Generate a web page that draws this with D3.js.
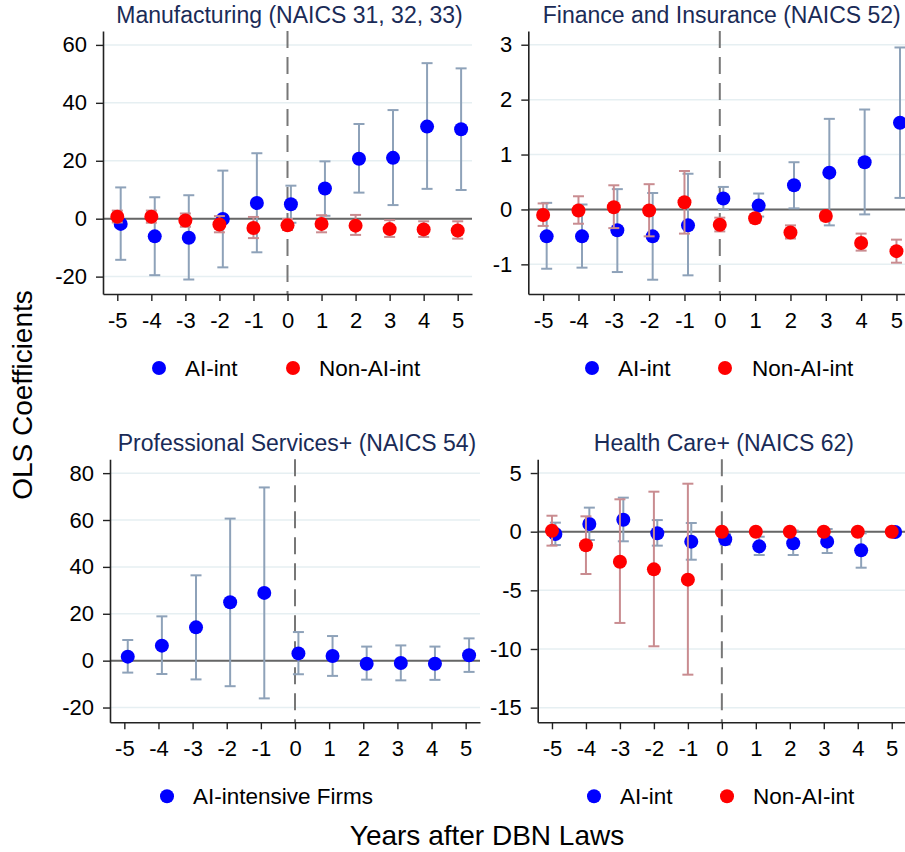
<!DOCTYPE html>
<html lang="en">
<head>
  <meta charset="utf-8">
  <title>OLS Coefficients</title>
  <style>
    body {
      margin:0;
      background-color:#fff;
      font-family:"Liberation Sans", Arial, sans-serif;
    }
    .tick text {
      font-size:22px;
      fill:#000;
    }
    .panel-title {
      font-size:23px;
      fill:#1a2b57;
    }
    .legend text {
      font-size:22.5px;
      fill:#000;
    }
    .big-title {
      font-size:28px;
      fill:#000;
    }
  </style>
</head>
<body>
  <div id="chart"></div>
  <script src="https://cdn.jsdelivr.net/npm/d3@7"></script>
  <script>
    // years relative to the law
    var years = [-5, -4, -3, -2, -1, 0, 1, 2, 3, 4, 5];

    // Manufacturing (NAICS 31, 32, 33)
    var mfgAI     = [-1.8, -6.1, -6.6, -0.1, 5.4, 5.0, 10.4, 20.7, 21.0, 31.8, 30.9];
    var mfgAILo   = [-14.2, -19.5, -21.0, -16.8, -11.6, -1.4, 1.0, 9.0, 4.7, 10.3, 9.9];
    var mfgAIHi   = [10.8, 7.4, 8.1, 16.6, 22.6, 11.4, 19.8, 32.7, 37.5, 53.7, 51.9];
    var mfgNon    = [0.7, 0.7, -0.6, -2.0, -3.2, -2.3, -1.8, -2.4, -3.6, -3.7, -4.1];
    var mfgNonLo  = [-1.3, -1.4, -2.8, -4.7, -6.7, -3.9, -4.7, -5.6, -6.3, -6.3, -6.9];
    var mfgNonHi  = [2.8, 2.8, 1.8, 0.9, 0.6, -0.1, 1.2, 1.3, -0.5, -0.9, -0.9];

    // Finance and Insurance (NAICS 52)
    var finAI     = [-0.49, -0.49, -0.38, -0.49, -0.29, 0.20, 0.07, 0.44, 0.67, 0.86, 1.58];
    var finAILo   = [-1.08, -1.06, -1.14, -1.28, -1.20, 0.00, -0.13, 0.02, -0.29, -0.09, 0.21];
    var finAIHi   = [0.12, 0.09, 0.37, 0.30, 0.65, 0.41, 0.29, 0.86, 1.65, 1.82, 2.95];
    var finNon    = [-0.10, -0.02, 0.04, -0.02, 0.13, -0.28, -0.16, -0.42, -0.12, -0.61, -0.76];
    var finNonLo  = [-0.30, -0.26, -0.34, -0.49, -0.44, -0.40, -0.24, -0.53, -0.20, -0.75, -0.97];
    var finNonHi  = [0.11, 0.24, 0.44, 0.46, 0.70, -0.15, -0.09, -0.29, -0.03, -0.44, -0.55];

    // Professional Services+ (NAICS 54)
    var proAI     = [1.7, 6.4, 14.2, 24.9, 28.9, 3.1, 2.0, -1.3, -1.0, -1.3, 2.3];
    var proAILo   = [-5.1, -5.7, -8.0, -10.9, -16.1, -5.8, -6.5, -8.1, -8.4, -8.2, -4.8];
    var proAIHi   = [8.8, 18.9, 36.4, 60.6, 73.9, 12.2, 10.5, 6.0, 6.5, 6.0, 9.5];

    // Health Care+ (NAICS 62)
    var hcAI      = [-0.20, 0.65, 1.02, -0.14, -0.85, -0.65, -1.25, -0.99, -0.85, -1.59, -0.03];
    var hcAILo    = [-1.14, -0.71, -0.82, -1.19, -2.39, -1.10, -1.99, -1.99, -1.82, -3.07, -0.10];
    var hcAIHi    = [0.77, 2.05, 2.90, 0.99, 0.74, -0.20, -0.43, 0.09, 0.23, -0.14, 0.05];
    var hcNon     = [0.08, -1.16, -2.56, -3.21, -4.09, 0, 0, 0, 0, 0, 0];
    var hcNonLo   = [-1.19, -3.61, -7.78, -9.77, -12.19, 0, 0, 0, 0, 0, 0];
    var hcNonHi   = [1.36, 1.31, 2.76, 3.41, 4.09, 0, 0, 0, 0, 0, 0];

    // y ticks per panel
    var mfgTicks = [-20, 0, 20, 40, 60];
    var finTicks = [-1, 0, 1, 2, 3];
    var proTicks = [-20, 0, 20, 40, 60, 80];
    var hcTicks  = [-15, -10, -5, 0, 5];

    var blue = "#0000ff", red = "#ff0000";
    var blueCI = "#8ea2b9", redCI = "#c98c90";

    var W = 905, H = 852;

    var svg = d3.select("#chart").append("svg")
        .attr("width", W)
        .attr("height", H);

    var panels = [
      {
        title: "Manufacturing (NAICS 31, 32, 33)",
        left: 103, right: 472, top: 31, bottom: 294,
        ydom: [-26.0, 64.8], ticks: mfgTicks,
        series: [
          {v: mfgAI, lo: mfgAILo, hi: mfgAIHi, c: blue, ci: blueCI, off: 0.1},
          {v: mfgNon, lo: mfgNonLo, hi: mfgNonHi, c: red, ci: redCI, off: 0}
        ],
        legend: [{c: blue, t: "AI-int", mx: 159, tx: 185}, {c: red, t: "Non-AI-int", mx: 293, tx: 319}]
      },
      {
        title: "Finance and Insurance (NAICS 52)",
        left: 528.3, right: 911.3, top: 31, bottom: 294,
        ydom: [-1.54, 3.25], ticks: finTicks,
        series: [
          {v: finAI, lo: finAILo, hi: finAIHi, c: blue, ci: blueCI, off: 0.1},
          {v: finNon, lo: finNonLo, hi: finNonHi, c: red, ci: redCI, off: 0}
        ],
        legend: [{c: blue, t: "AI-int", mx: 592, tx: 618}, {c: red, t: "Non-AI-int", mx: 725, tx: 752}]
      },
      {
        title: "Professional Services+ (NAICS 54)",
        left: 110, right: 480, top: 459.3, bottom: 722.3,
        ydom: [-26.3, 85.9], ticks: proTicks,
        series: [
          {v: proAI, lo: proAILo, hi: proAIHi, c: blue, ci: blueCI, off: 0.1}
        ],
        legend: [{c: blue, t: "AI-intensive Firms", mx: 167, tx: 193}]
      },
      {
        title: "Health Care+ (NAICS 62)",
        left: 537.7, right: 906, top: 459.3, bottom: 722.3,
        ydom: [-16.25, 6.17], ticks: hcTicks,
        series: [
          {v: hcAI, lo: hcAILo, hi: hcAIHi, c: blue, ci: blueCI, off: 0.1},
          {v: hcNon, lo: hcNonLo, hi: hcNonHi, c: red, ci: redCI, off: 0}
        ],
        legend: [{c: blue, t: "AI-int", mx: 594, tx: 620}, {c: red, t: "Non-AI-int", mx: 727, tx: 753}]
      }
    ];

    panels.forEach(function(p){
      var x = d3.scaleLinear().domain([-5.42, 5.42]).range([p.left, p.right]);
      var y = d3.scaleLinear().domain(p.ydom).range([p.bottom, p.top]);
      var g = svg.append("g");

      // grid
      g.selectAll("line.grid").data(p.ticks).enter().append("line")
          .attr("class", "grid")
          .attr("x1", p.left).attr("x2", p.right)
          .attr("y1", function(d){ return y(d); })
          .attr("y2", function(d){ return y(d); })
          .attr("stroke", "#e6eff2")
          .attr("stroke-width", 1.5);

      // zero line
      g.append("line")
          .attr("x1", p.left).attr("x2", p.right)
          .attr("y1", y(0)).attr("y2", y(0))
          .attr("stroke", "#666")
          .attr("stroke-width", 2);

      // dashed line at year 0
      g.append("line")
          .attr("x1", x(0)).attr("x2", x(0))
          .attr("y1", p.top).attr("y2", p.bottom)
          .attr("stroke", "#777")
          .attr("stroke-width", 2)
          .attr("stroke-dasharray", "17,9");

      // axes
      var yAxis = d3.axisLeft(y).tickValues(p.ticks).tickSize(7).tickSizeOuter(0)
          .tickPadding(9).tickFormat(function(d){ return String(d); });
      var xAxis = d3.axisBottom(x).tickValues(years).tickSize(7).tickSizeOuter(0)
          .tickPadding(11.5).tickFormat(function(d){ return String(d); });

      var ya = g.append("g").attr("transform", "translate(" + p.left + ",0)").call(yAxis);
      var xa = g.append("g").attr("transform", "translate(0," + p.bottom + ")").call(xAxis);
      [ya, xa].forEach(function(a){
        a.select(".domain").attr("stroke", "#222").attr("stroke-width", 1.6);
        a.selectAll(".tick line").attr("stroke", "#222").attr("stroke-width", 1.4);
        a.selectAll(".tick text").attr("font-family", null).attr("font-size", null);
      });
      ya.attr("font-size", null).attr("font-family", null);
      xa.attr("font-size", null).attr("font-family", null);

      // error bars and points
      p.series.forEach(function(s){
        var sg = g.append("g");
        var rows = years.map(function(yr, i){
          return {x: yr + s.off, v: s.v[i], lo: s.lo[i], hi: s.hi[i]};
        });
        var bars = sg.selectAll("g.ci").data(rows.filter(function(d){ return d.hi > d.lo; }))
            .enter().append("g").attr("class", "ci")
            .attr("stroke", s.ci).attr("stroke-width", 2);
        bars.append("line")
            .attr("x1", function(d){ return x(d.x); })
            .attr("x2", function(d){ return x(d.x); })
            .attr("y1", function(d){ return y(d.lo); })
            .attr("y2", function(d){ return y(d.hi); });
        bars.append("line")
            .attr("x1", function(d){ return x(d.x) - 5.5; })
            .attr("x2", function(d){ return x(d.x) + 5.5; })
            .attr("y1", function(d){ return y(d.lo); })
            .attr("y2", function(d){ return y(d.lo); });
        bars.append("line")
            .attr("x1", function(d){ return x(d.x) - 5.5; })
            .attr("x2", function(d){ return x(d.x) + 5.5; })
            .attr("y1", function(d){ return y(d.hi); })
            .attr("y2", function(d){ return y(d.hi); });
        sg.selectAll("circle").data(rows).enter().append("circle")
            .attr("cx", function(d){ return x(d.x); })
            .attr("cy", function(d){ return y(d.v); })
            .attr("r", 7)
            .attr("fill", s.c);
      });

      // title
      g.append("text")
          .attr("class", "panel-title")
          .attr("x", (p.left + p.right) / 2 + 2)
          .attr("y", p.top - 8)
          .attr("text-anchor", "middle")
          .text(p.title);

      // legend
      var lg = g.append("g").attr("class", "legend");
      var ly = p.bottom + 74;
      p.legend.forEach(function(l){
        lg.append("circle").attr("cx", l.mx).attr("cy", ly).attr("r", 7).attr("fill", l.c);
        lg.append("text").attr("x", l.tx).attr("y", ly + 8).text(l.t);
      });
    });

    // shared axis titles
    svg.append("text")
        .attr("class", "big-title")
        .attr("transform", "translate(32,395) rotate(-90)")
        .attr("text-anchor", "middle")
        .text("OLS Coefficients");

    svg.append("text")
        .attr("class", "big-title")
        .attr("x", 487)
        .attr("y", 845)
        .attr("text-anchor", "middle")
        .text("Years after DBN Laws");
  </script>
</body>
</html>
